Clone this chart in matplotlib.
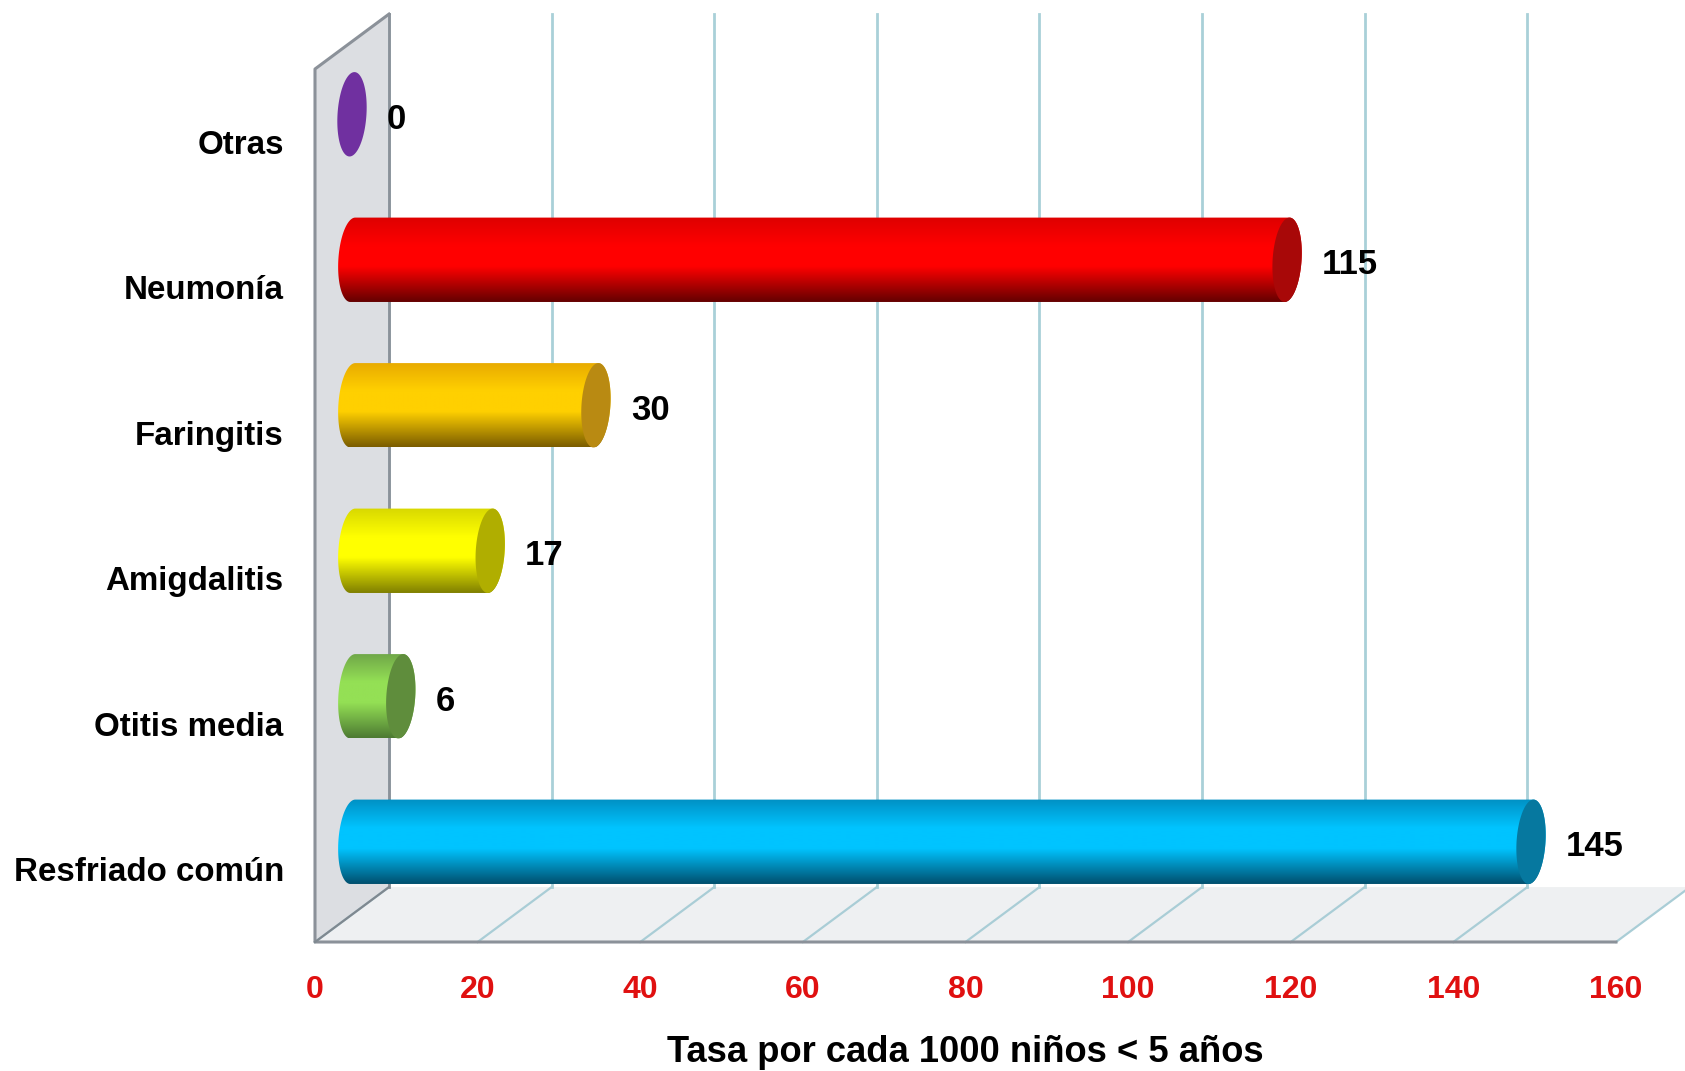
import numpy as np
import matplotlib
matplotlib.use('Agg')
import matplotlib.pyplot as plt
from matplotlib.colors import LinearSegmentedColormap
from matplotlib.patches import Polygon

plt.rcParams['font.family'] = ['Liberation Sans', 'DejaVu Sans']

#Chart data, bottom to top
categories = ['Resfriado común', 'Otitis media', 'Amigdalitis', 'Faringitis', 'Neumonía', 'Otras']
values = [145, 6, 17, 30, 115, 0]
x_ticks = [0, 20, 40, 60, 80, 100, 120, 140, 160]
x_title = 'Tasa por cada 1000 niños < 5 años'

#bottom edge, bright band, top edge, cap
bar_shades = [
    ('#004f6e', '#00c4ff', '#0090c4', '#06789f'),
    ('#4d7a32', '#94e055', '#6fa648', '#5f8d3c'),
    ('#7f7f00', '#ffff00', '#d8d800', '#b0ae00'),
    ('#7a5c00', '#ffd000', '#e8aa00', '#b98a12'),
    ('#640000', '#ff0000', '#de0000', '#a80808'),
    ('#7030a0', '#7030a0', '#7030a0', '#7030a0'),
]

#3D look of the plot, in data units
depth_x = 9.1
depth_y = 0.3775
bar_h = 0.58
cap_w = 1.78
cap_lean = 0.3

fig = plt.figure(figsize=(16.85, 10.71), dpi=100)
ax = fig.add_axes([315 / 1685, 129 / 1071, 1301 / 1685, 873 / 1071])
ax.set_xlim(0, 160)
ax.set_ylim(-0.5, 5.5)
for s in ax.spines.values():
    s.set_visible(False)

#Wall and floor
ax.add_patch(Polygon([(0, -0.5), (depth_x, -0.5 + depth_y), (depth_x, 5.5 + depth_y), (0, 5.5)],
                     facecolor='#dcdee2', edgecolor='none', clip_on=False, zorder=1))
ax.add_patch(Polygon([(0, -0.5), (160, -0.5), (160 + depth_x, -0.5 + depth_y), (depth_x, -0.5 + depth_y)],
                     facecolor='#eef0f2', edgecolor='none', clip_on=False, zorder=1))

#Gridlines
for t in x_ticks:
    ax.plot([t, t + depth_x], [-0.5, -0.5 + depth_y], color='#a9cdd6', lw=1.6, clip_on=False, zorder=2)
    ax.plot([t + depth_x, t + depth_x], [-0.5 + depth_y, 5.5 + depth_y], color='#a9d0d8', lw=2, clip_on=False, zorder=2)

#Wall and floor outline
edge = '#8b9199'
ax.plot([depth_x, 0, 0, 160], [5.5 + depth_y, 5.5, -0.5, -0.5], color=edge, lw=2.2, clip_on=False, zorder=3)
ax.plot([depth_x, depth_x], [-0.5 + depth_y, 5.5 + depth_y], color=edge, lw=2, clip_on=False, zorder=3)
ax.plot([0, depth_x], [-0.5, -0.5 + depth_y], color='#7f8890', lw=1.6, clip_on=False, zorder=3)

#Cylinders
t = np.linspace(0, 2 * np.pi, 200)
for i, (val, shade) in enumerate(zip(values, bar_shades)):
    yc = i + depth_y / 2
    xs = depth_x / 2 + 0.1
    xe = val + depth_x / 2
    ex = cap_w * np.cos(t) + cap_lean * np.sin(t)
    ey = bar_h / 2 * np.sin(t)

    if val > 0:
        #outline is left half of the start ellipse plus right half of the end ellipse
        left = np.cos(t) < 0
        right = ~left
        a_ang = t[right]
        a_ang = np.concatenate([a_ang[a_ang > np.pi], a_ang[a_ang <= np.pi]])
        outline = np.concatenate([
            np.column_stack([xe + cap_w * np.cos(a_ang) + cap_lean * np.sin(a_ang), yc + bar_h / 2 * np.sin(a_ang)]),
            np.column_stack([xs + ex[left], yc + ey[left]]),
        ])
        body = Polygon(outline, facecolor='none', edgecolor='none', zorder=4)
        ax.add_patch(body)
        cmap = LinearSegmentedColormap.from_list(
            'cyl', [(0, shade[0]), (0.42, shade[1]), (0.66, shade[1]), (1, shade[2])])
        grad = np.linspace(0, 1, 256).reshape(-1, 1)
        im = ax.imshow(grad, cmap=cmap, origin='lower', aspect='auto', zorder=4, interpolation='bilinear',
                       extent=(xs - cap_w - 1, xe + cap_w + 1, yc - bar_h / 2, yc + bar_h / 2))
        im.set_clip_path(body)

    ax.add_patch(Polygon(np.column_stack([xe + ex, yc + ey]), facecolor=shade[3], edgecolor='none', zorder=5))
    ax.text(xe + cap_w + 2.5, yc - 0.035, str(val), ha='left', va='center', fontsize=25,
            fontweight='bold', color='black', zorder=6, clip_on=False)

ax.set_xlim(0, 160)
ax.set_ylim(-0.5, 5.5)

ax.set_xticks(x_ticks)
ax.set_xticklabels([str(x) for x in x_ticks], fontsize=23, fontweight='bold', color='#e01010')
ax.set_yticks(range(len(categories)))
ax.set_yticklabels(categories, fontsize=23.9, fontweight='bold', color='black')
ax.tick_params(axis='x', length=0, pad=24)
ax.tick_params(axis='y', length=0, pad=22.5)
ax.set_xlabel(x_title, fontsize=26.2, fontweight='bold', labelpad=21.5)

fig.savefig('out.png', dpi=100)
